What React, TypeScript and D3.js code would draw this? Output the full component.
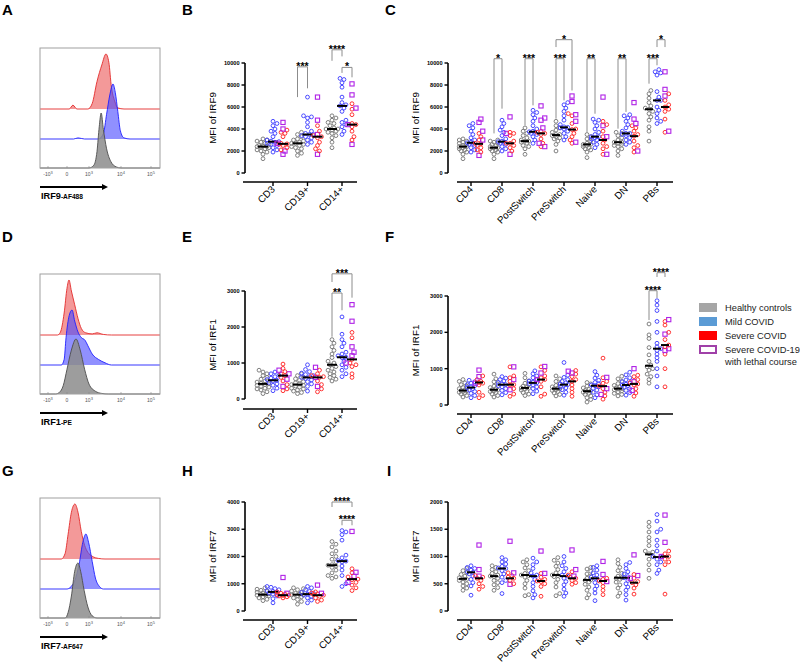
import React from "react";
import * as d3 from "d3";

const FONT = "'Liberation Sans', Arial, Helvetica, sans-serif";

// categories
const lineageCats = ["CD3", "CD19+", "CD14+"];
const subsetCats = ["CD4", "CD8", "PostSwitch", "PreSwitch", "Naive", "DN", "PBs"];

// ---------- IRF9, lineages (B) ----------
const irf9LinHC = [
  [1300, 1700, 1900, 2000, 2100, 2200, 2300, 2350, 2400, 2400, 2450, 2500, 2600, 2700, 2800, 2900, 3000, 3100],
  [1600, 1800, 2000, 2200, 2300, 2400, 2500, 2600, 2700, 2700, 2800, 2900, 3000, 3100, 3300, 3500, 3700],
  [2300, 2800, 3200, 3400, 3600, 3700, 3800, 3900, 4000, 4000, 4100, 4300, 4500, 4600, 4800, 5000, 5200],
];
const irf9LinMild = [
  [1900, 2100, 2300, 2500, 2600, 2700, 2800, 2850, 2900, 3000, 3300, 3600, 3800, 4000, 4300, 4500, 4700],
  [2600, 2800, 3000, 3200, 3300, 3400, 3500, 3500, 3600, 3800, 4200, 4600, 5000, 5100, 5200, 6900],
  [3500, 3800, 4200, 4400, 4600, 4800, 5600, 5900, 6100, 6200, 6400, 6900, 7800, 8200, 8500, 8600],
];
const irf9LinSev = [
  [2100, 2300, 2500, 2600, 2650, 2700, 3300, 3600, 3700, 3900],
  [2000, 2200, 2500, 2800, 3200, 3300, 3400, 3800, 4300],
  [3000, 3300, 3800, 4200, 4400, 4500, 5300, 5800, 6300],
];
const irf9LinLethal = [
  [4600, 4000, 2700, 2000, 1700],
  [6900, 4800, 3500, 1700],
  [8100, 7100, 5900, 4400, 2600],
];
const irf9LinMed = [[2400, 2850, 2650], [2700, 3500, 3300], [4000, 6100, 4400]];
const irf9LinSig = [
  { cat: 1, a: 0, b: 1, label: "***", bar: 9650, endA: 6900, endB: 7700 },
  { cat: 2, a: 0, b: 1, label: "****", bar: 11200, endA: 10200, endB: 10600 },
  { cat: 2, a: 1, b: 2, label: "*", bar: 9600, endA: 9100, endB: 8700 },
];

// ---------- IRF9, B/T subsets (C) ----------
const irf9SubHC = [
  [1300, 1700, 1900, 2000, 2100, 2200, 2300, 2400, 2400, 2500, 2600, 2700, 2800, 2900, 3000, 3100],
  [1300, 1700, 1900, 2000, 2100, 2200, 2300, 2300, 2400, 2500, 2600, 2700, 2800, 2900, 3000],
  [1700, 2200, 2400, 2500, 2700, 2800, 2900, 2900, 3000, 3200, 3400, 3600, 3800, 4100],
  [2000, 2600, 2900, 3100, 3200, 3300, 3400, 3500, 3500, 3700, 3900, 4100, 4300, 4700],
  [1400, 1900, 2100, 2200, 2300, 2400, 2500, 2600, 2600, 2700, 2900, 3100, 3300, 3500],
  [1600, 2000, 2200, 2400, 2500, 2600, 2700, 2800, 2800, 3000, 3200, 3400, 3600, 3700],
  [2900, 3800, 4200, 4800, 5100, 5400, 5600, 5800, 5900, 6100, 6400, 6800, 7200, 7500],
];
const irf9SubMild = [
  [1900, 2100, 2300, 2500, 2600, 2700, 2750, 2800, 3000, 3200, 3500, 3800, 4100, 4300, 4500],
  [2000, 2200, 2400, 2600, 2700, 2800, 2850, 2900, 3100, 3400, 3700, 3900, 4200, 4500, 4800],
  [2700, 3000, 3300, 3500, 3600, 3700, 3750, 3800, 4000, 4300, 4700, 5000, 5300, 5500, 5700],
  [3000, 3300, 3600, 3800, 4000, 4100, 4150, 4200, 4400, 4800, 5200, 5600, 5900, 6200, 6400],
  [2300, 2600, 2800, 3000, 3100, 3200, 3300, 3300, 3500, 3700, 4000, 4300, 4600, 4800, 4900],
  [2600, 2800, 3000, 3200, 3400, 3500, 3600, 3600, 3800, 4100, 4400, 4700, 5000, 5200, 5300],
  [4500, 4700, 5000, 5400, 5700, 6000, 6600, 6600, 6900, 7400, 8900, 9100, 9200, 9400],
];
const irf9SubSev = [
  [1900, 2100, 2300, 2500, 2650, 2700, 3000, 3300, 3600],
  [2000, 2300, 2500, 2700, 2700, 2900, 3400, 3600, 3700],
  [2400, 2700, 3100, 3500, 3600, 3700, 3800],
  [2700, 3000, 3300, 3600, 3950, 4000, 4500, 5200, 5400],
  [1700, 2200, 2400, 2700, 3000, 3300, 3800, 4400, 4700],
  [1900, 2300, 2500, 2900, 3350, 3500, 3800, 4100, 4300],
  [3700, 4900, 5600, 5800, 6000, 6200, 6600, 7200],
];
const irf9SubLethal = [
  [4900, 4600, 3800, 3000, 1600],
  [5100, 3600, 1700],
  [6100, 5000, 4800, 4100, 2700, 2400],
  [7000, 6500, 5300, 4700, 2800],
  [6900, 4300, 3300, 1700],
  [6400, 4900, 4500, 2000],
  [9200, 7600, 7000, 3800],
];
const irf9SubMed = [
  [2400, 2750, 2650], [2300, 2850, 2700], [2900, 3750, 3600], [3450, 4150, 3950],
  [2600, 3300, 3000], [2800, 3600, 3350], [5800, 6600, 6000],
];
const irf9SubSig = [
  { cat: 1, a: 0, b: 1, label: "*", bar: 10390, endA: 3600, endB: 5850 },
  { cat: 2, a: 0, b: 1, label: "***", bar: 10390, endA: 4330, endB: 6150 },
  { cat: 3, a: 0, b: 1, label: "***", bar: 10390, endA: 4940, endB: 6600 },
  { cat: 3, a: 0, b: 2, label: "*", bar: 12120, endA: 11450, endB: 7500 },
  { cat: 4, a: 0, b: 1, label: "**", bar: 10390, endA: 3730, endB: 5390 },
  { cat: 5, a: 0, b: 1, label: "**", bar: 10390, endA: 4030, endB: 5550 },
  { cat: 6, a: 0, b: 1, label: "***", bar: 10390, endA: 8120, endB: 9790 },
  { cat: 6, a: 1, b: 2, label: "*", bar: 12120, endA: 11450, endB: 11450 },
];

// ---------- IRF1, lineages (E) ----------
const irf1LinHC = [
  [150, 200, 250, 280, 300, 330, 350, 380, 400, 420, 440, 470, 500, 550, 600, 650, 700, 750, 800],
  [150, 180, 220, 250, 280, 300, 330, 360, 380, 400, 420, 450, 480, 520, 560, 600, 650, 700],
  [500, 550, 600, 650, 700, 750, 800, 850, 900, 950, 1000, 1050, 1150, 1250, 1350, 1450, 1550, 1650],
];
const irf1LinMild = [
  [230, 300, 380, 420, 460, 500, 520, 540, 580, 620, 660, 700, 750],
  [220, 350, 420, 480, 530, 570, 600, 620, 650, 680, 720, 760, 820, 950],
  [620, 700, 800, 880, 950, 1050, 1150, 1160, 1200, 1250, 1300, 1450, 1550, 1650, 1800, 2280],
];
const irf1LinSev = [
  [230, 280, 400, 500, 600, 650, 700, 760, 850, 970],
  [200, 280, 400, 500, 600, 620, 650, 700, 800],
  [600, 700, 900, 950, 1000, 1100, 1700, 1850],
];
const irf1LinLethal = [[800, 700, 550, 350], [880, 600, 350], [2620, 2160, 1450, 1300, 1200, 1000]];
const irf1LinMed = [[420, 520, 650], [400, 600, 600], [950, 1160, 1100]];
const irf1LinSig = [
  { cat: 2, a: 0, b: 1, label: "**", bar: 2944, endA: 1730, endB: 2465 },
  { cat: 2, a: 0, b: 2, label: "***", bar: 3477, endA: 3250, endB: 2815 },
];

// ---------- IRF1, subsets (F) ----------
const irf1SubHC = [
  [220, 260, 300, 330, 350, 370, 390, 400, 420, 450, 480, 520, 560, 610, 650, 700],
  [220, 260, 300, 340, 370, 390, 410, 420, 450, 480, 520, 580, 640, 720, 850],
  [260, 300, 340, 380, 410, 440, 460, 470, 490, 520, 560, 600, 660, 750, 870],
  [250, 290, 330, 370, 400, 420, 440, 450, 470, 500, 540, 590, 650, 720, 800],
  [80, 150, 200, 250, 290, 320, 350, 370, 380, 400, 430, 470, 520, 580, 620],
  [250, 290, 320, 360, 390, 420, 440, 450, 470, 500, 540, 590, 650, 720, 790],
  [600, 700, 780, 850, 960, 1000, 1050, 1100, 1200, 1380, 1580, 1830, 1930, 2230],
];
const irf1SubMild = [
  [200, 260, 320, 370, 410, 450, 480, 500, 530, 560, 600, 640, 680],
  [280, 340, 400, 450, 500, 530, 560, 580, 620, 660, 700, 740, 780],
  [310, 380, 450, 500, 550, 590, 610, 630, 660, 700, 750, 800, 860, 940],
  [270, 350, 420, 470, 510, 540, 560, 580, 610, 650, 700, 760, 820, 1170],
  [200, 280, 350, 410, 460, 500, 530, 550, 580, 620, 680, 740, 820, 920],
  [270, 340, 400, 450, 490, 530, 550, 570, 600, 640, 690, 750, 830, 900],
  [500, 800, 1000, 1200, 1300, 1400, 1500, 1550, 1600, 1700, 2000, 2300, 2600, 2750, 2870],
];
const irf1SubSev = [
  [200, 260, 350, 550, 600, 620, 650, 700, 800],
  [240, 300, 450, 550, 560, 650, 750, 800, 1050],
  [240, 300, 500, 650, 700, 750, 800, 950, 1050],
  [240, 350, 450, 550, 650, 700, 780, 850, 950],
  [160, 250, 350, 450, 520, 600, 650, 750, 1290],
  [240, 330, 450, 550, 580, 620, 700, 780, 820],
  [500, 1000, 1400, 1600, 1650, 1800, 2000, 2200, 2300],
];
const irf1SubLethal = [
  [960, 780, 600], [1050, 700, 420], [1060, 880, 700], [930, 880],
  [760, 450, 290], [1000, 640, 400], [2350, 1950, 1550, 1500],
];
const irf1SubMed = [
  [400, 480, 620], [420, 560, 560], [470, 610, 700], [450, 560, 650],
  [380, 530, 520], [450, 550, 580], [1080, 1550, 1650],
];
const irf1SubSig = [
  { cat: 6, a: 0, b: 1, label: "****", bar: 3146, endA: 2340, endB: 2945 },
  { cat: 6, a: 1, b: 2, label: "****", bar: 3642, endA: 3523, endB: 3523 },
];

// ---------- IRF7, lineages (H) ----------
const irf7LinHC = [
  [380, 430, 480, 520, 550, 580, 600, 610, 630, 660, 690, 720, 760, 800, 850],
  [250, 350, 420, 480, 520, 560, 590, 600, 620, 650, 690, 730, 780, 820, 850],
  [1200, 1250, 1300, 1400, 1500, 1600, 1650, 1680, 1700, 1800, 1900, 2000, 2100, 2200, 2350, 2450, 2550],
];
const irf7LinMild = [
  [300, 450, 550, 620, 660, 700, 720, 750, 780, 820, 870, 900],
  [300, 400, 480, 540, 580, 620, 650, 680, 720, 780, 850, 900],
  [900, 1000, 1300, 1500, 1650, 1800, 1830, 1850, 1950, 2050, 2600, 2800, 2900, 2950],
];
const irf7LinSev = [
  [480, 520, 550, 570, 580, 600, 620, 650, 700],
  [350, 400, 480, 540, 580, 600, 630, 660, 700],
  [750, 850, 950, 1050, 1150, 1170, 1250, 1400, 1550],
];
const irf7LinLethal = [[1230, 650], [950, 650], [2920, 1420, 1270, 1050]];
const irf7LinMed = [[600, 700, 580], [600, 620, 580], [1680, 1830, 1170]];
const irf7LinSig = [
  { cat: 2, a: 0, b: 2, label: "****", bar: 4000, endA: 3817, endB: 3817 },
  { cat: 2, a: 1, b: 2, label: "****", bar: 3330, endA: 3146, endB: 3146 },
];

// ---------- IRF7, subsets (I) ----------
const irf7SubHC = [
  [380, 420, 460, 500, 530, 560, 580, 590, 610, 640, 670, 700, 740, 780],
  [380, 430, 480, 520, 560, 600, 630, 640, 660, 690, 720, 760, 800, 830],
  [280, 300, 420, 500, 560, 620, 650, 660, 690, 740, 790, 850, 900, 940],
  [280, 320, 440, 520, 580, 630, 650, 660, 700, 760, 820, 880, 930, 980],
  [240, 300, 380, 440, 490, 530, 560, 570, 600, 640, 680, 730, 770, 800],
  [270, 330, 420, 480, 530, 580, 600, 610, 640, 690, 740, 800, 870, 940],
  [600, 750, 850, 950, 1000, 1050, 1080, 1100, 1200, 1280, 1350, 1450, 1550, 1630],
];
const irf7SubMild = [
  [290, 460, 520, 580, 640, 680, 710, 720, 750, 780, 800, 830],
  [320, 520, 560, 620, 680, 740, 780, 790, 820, 860, 900, 940, 980],
  [240, 300, 370, 450, 520, 580, 640, 660, 700, 780, 850, 900, 970],
  [270, 330, 400, 480, 540, 600, 640, 660, 720, 780, 830, 900, 1000],
  [190, 330, 400, 460, 520, 570, 600, 620, 660, 700, 750, 800, 830],
  [200, 300, 380, 440, 500, 560, 610, 630, 680, 720, 780, 850, 890],
  [690, 750, 850, 900, 950, 990, 1000, 1100, 1200, 1300, 1450, 1500, 1650, 1770],
];
const irf7SubSev = [
  [400, 450, 500, 560, 600, 620, 650],
  [500, 560, 600, 620, 650, 700],
  [270, 450, 500, 540, 550, 580, 620, 690],
  [490, 520, 560, 600, 620, 660, 720],
  [300, 380, 450, 520, 550, 580, 600],
  [310, 420, 480, 520, 540, 600, 670],
  [310, 850, 900, 950, 1000, 1050, 1100],
];
const irf7SubLethal = [
  [1210, 760, 640], [1280, 700, 490], [1100, 690], [1120, 760, 640],
  [910, 670, 540], [1030, 650, 600], [1760, 1260, 1000],
];
const irf7SubMed = [
  [590, 710, 600], [640, 780, 600], [660, 640, 550], [660, 640, 600],
  [570, 600, 550], [610, 610, 520], [1040, 990, 1000],
];
const irf7SubSig: any[] = [];

// ---------- flow histograms (x in display decades, height relative to modal peak) ----------
const histTicks = [
  { v: -1, base: "-10", sup: "3" },
  { v: 0, base: "0", sup: "" },
  { v: 1, base: "10", sup: "3" },
  { v: 2, base: "10", sup: "4" },
  { v: 3, base: "10", sup: "5" },
];
const irf9HistRed = [[-1.4, 0], [0.1, 0], [0.27, 0.07], [0.45, 0], [0.95, 0], [1.1, 0.1], [1.25, 0.5], [1.4, 0.8], [1.53, 1], [1.62, 0.85], [1.7, 0.4], [1.8, 0.15], [1.9, 0.02], [2.1, 0], [3.3, 0]];
const irf9HistBlue = [[-1.4, 0], [0.3, 0], [0.5, 0.02], [0.8, 0], [1.3, 0], [1.45, 0.1], [1.55, 0.45], [1.65, 0.8], [1.75, 1], [1.82, 0.85], [1.9, 0.5], [1.98, 0.15], [2.1, 0.02], [2.3, 0], [3.3, 0]];
const irf9HistGrey = [[-1.4, 0], [1.0, 0], [1.15, 0.05], [1.25, 0.3], [1.32, 0.75], [1.38, 1], [1.45, 0.7], [1.55, 0.35], [1.68, 0.12], [1.85, 0.02], [2.0, 0], [3.3, 0]];
const irf1HistRed = [[-1.4, 0], [-0.5, 0], [-0.35, 0.05], [-0.15, 0.4], [0, 0.85], [0.09, 1], [0.2, 0.8], [0.35, 0.55], [0.5, 0.3], [0.65, 0.12], [0.85, 0.04], [1.1, 0.02], [1.25, 0.04], [1.45, 0.01], [1.7, 0], [3.3, 0]];
const irf1HistBlue = [[-1.4, 0], [-0.3, 0], [-0.15, 0.1], [-0.05, 0.5], [0.1, 0.9], [0.23, 1], [0.35, 0.8], [0.5, 0.6], [0.65, 0.5], [0.82, 0.45], [0.95, 0.35], [1.1, 0.2], [1.3, 0.1], [1.5, 0.04], [1.7, 0], [3.3, 0]];
const irf1HistGrey = [[-1.4, 0], [-0.6, 0], [-0.4, 0.03], [-0.2, 0.15], [0, 0.45], [0.2, 0.8], [0.41, 1], [0.6, 0.8], [0.8, 0.45], [1.0, 0.18], [1.2, 0.05], [1.4, 0.01], [1.6, 0], [3.3, 0]];
const irf7HistRed = [[-1.4, 0], [-0.3, 0], [-0.1, 0.1], [0.05, 0.45], [0.2, 0.85], [0.36, 1], [0.5, 0.85], [0.65, 0.5], [0.8, 0.25], [0.95, 0.12], [1.1, 0.05], [1.3, 0.01], [1.5, 0], [3.3, 0]];
const irf7HistBlue = [[-1.4, 0], [0, 0], [0.15, 0.03], [0.35, 0.15], [0.55, 0.45], [0.72, 0.85], [0.86, 1], [0.98, 0.85], [1.1, 0.5], [1.2, 0.2], [1.32, 0.05], [1.45, 0], [3.3, 0]];
const irf7HistGrey = [[-1.4, 0], [-0.1, 0], [0.05, 0.1], [0.2, 0.4], [0.35, 0.85], [0.5, 1], [0.62, 0.85], [0.78, 0.5], [0.95, 0.2], [1.1, 0.04], [1.25, 0], [3.3, 0]];

const legendItems = ["Healthy controls", "Mild COVID", "Severe COVID", "Severe COVID-19", "with lethal course"];

const groupStroke = ["#808080", "#4a4aff", "#ff3333"];
const lethalStroke = "#b022e6";

type Sig = { cat: number; a: number; b: number; label: string; bar: number; endA: number; endB: number };

// simple beeswarm: nearest free horizontal slot, capped at maxOff
function swarm(vals: { v: number; sq: boolean }[], y: (v: number) => number, d: number, maxOff: number) {
  const pts = vals.map((p) => ({ ...p, py: y(p.v), dx: 0 })).sort((a, b) => b.py - a.py);
  const step = d * 0.55;
  const cands: number[] = [0];
  for (let k = 1; k * step <= maxOff; k++) cands.push(k * step, -k * step);
  const placed: typeof pts = [];
  for (const p of pts) {
    let best = 0, bestD = -1;
    for (const off of cands) {
      const md = placed.length ? Math.min(...placed.map((q) => Math.hypot(q.dx - off, q.py - p.py))) : Infinity;
      if (md >= d) { best = off; bestD = Infinity; break; }
      if (md > bestD) { bestD = md; best = off; }
    }
    p.dx = best;
    placed.push(p);
  }
  return placed;
}

function ScatterPanel(props: any) {
  const { cats, hc, mild, sev, lethal, med, sig, title, yMax, yStep, yZero, yTop, axisX, catRange, xAxis, xAxisY, off, medW, dot, spread } = props;
  const y = d3.scaleLinear().domain([0, yMax]).range([yZero, yTop]);
  const x = d3.scalePoint<string>().domain(cats).range(catRange);
  const ticks = d3.range(0, yMax + 1, yStep);
  const gx = (ci: number, g: number) => (x(cats[ci]) as number) + (g - 1) * off;
  const groups = [hc, mild, sev];
  return (
    <g>
      <line x1={axisX} x2={axisX} y1={y(0)} y2={y(yMax)} stroke="#000" strokeWidth={1.6} />
      {ticks.map((t: number) => (
        <g key={t}>
          <line x1={axisX - 3.5} x2={axisX} y1={y(t)} y2={y(t)} stroke="#000" strokeWidth={1.4} />
          <text x={axisX - 5.5} y={y(t)} dy="0.35em" textAnchor="end" fontSize={5.6} fontWeight="bold">{t}</text>
        </g>
      ))}
      <text transform={`translate(${axisX - 29},${(y(0) + y(yMax)) / 2}) rotate(-90)`} textAnchor="middle" fontSize={9.8}>{title}</text>
      <line x1={xAxis[0]} x2={xAxis[1]} y1={xAxisY} y2={xAxisY} stroke="#000" strokeWidth={1.6} />
      {cats.map((c: string) => (
        <g key={c}>
          <line x1={x(c)} x2={x(c)} y1={xAxisY} y2={xAxisY + 4} stroke="#000" strokeWidth={1.4} />
          <text transform={`translate(${(x(c) as number) + 2.5},${xAxisY + 8}) rotate(-45)`} textAnchor="end" fontSize={9.8}>{c}</text>
        </g>
      ))}
      {cats.map((c: string, ci: number) =>
        groups.map((grp: number[][], g: number) => {
          const vals = grp[ci].map((v) => ({ v, sq: false }));
          if (g === 2) lethal[ci].forEach((v: number) => vals.push({ v, sq: true }));
          const pts = swarm(vals, y, dot, spread);
          const cx = gx(ci, g);
          return (
            <g key={c + g}>
              {pts.map((p, i) =>
                p.sq ? (
                  <rect key={i} x={cx + p.dx - 2.1} y={p.py - 2.1} width={4.2} height={4.2} fill="none" stroke={lethalStroke} strokeWidth={1.1} />
                ) : (
                  <circle key={i} cx={cx + p.dx} cy={p.py} r={1.9} fill="none" stroke={groupStroke[g]} strokeWidth={1} />
                )
              )}
              <line x1={cx - medW / 2} x2={cx + medW / 2} y1={y(med[ci][g])} y2={y(med[ci][g])} stroke="#000" strokeWidth={2} />
            </g>
          );
        })
      )}
      {sig.map((s: Sig, i: number) => {
        const xa = gx(s.cat, s.a), xb = gx(s.cat, s.b);
        return (
          <g key={i}>
            <path d={`M${xa},${y(s.endA)}V${y(s.bar)}H${xb}V${y(s.endB)}`} fill="none" stroke="#8c8c8c" strokeWidth={1} />
            <text x={(xa + xb) / 2} y={y(s.bar) + 3} textAnchor="middle" fontSize={10.5} fontWeight="bold">{s.label}</text>
          </g>
        );
      })}
    </g>
  );
}

function Histogram({ top, red, blue, grey, name, fluor }: any) {
  const hx = d3.scaleLinear().domain([-1.4, -1, 0, 1, 2, 3, 3.3]).range([40, 48, 67, 89, 121, 151, 160]);
  const bottom = top + 120;
  const curves = [
    { data: red, base: top + 61, fill: "rgba(236,90,90,0.62)", stroke: "#e32b2b" },
    { data: blue, base: top + 91, fill: "rgba(70,70,255,0.6)", stroke: "#1f1fff" },
    { data: grey, base: bottom, fill: "rgba(140,140,140,0.85)", stroke: "#4d4d4d" },
  ];
  return (
    <g>
      {curves.map((c, i) => {
        const area = d3.area<number[]>().x((d) => hx(d[0])).y0(c.base).y1((d) => c.base - d[1] * 55).curve(d3.curveMonotoneX);
        const line = d3.line<number[]>().x((d) => hx(d[0])).y((d) => c.base - d[1] * 55).curve(d3.curveMonotoneX);
        return (
          <g key={i}>
            <path d={area(c.data) || ""} fill={c.fill} />
            <path d={line(c.data) || ""} fill="none" stroke={c.stroke} strokeWidth={0.9} />
          </g>
        );
      })}
      <rect x={40} y={top} width={120} height={120} fill="none" stroke="#a0a0a0" strokeWidth={1} />
      {histTicks.map((t) => (
        <g key={t.v}>
          <line x1={hx(t.v)} x2={hx(t.v)} y1={bottom} y2={bottom - 2} stroke="#888" strokeWidth={0.6} />
          <text x={hx(t.v)} y={bottom + 8} textAnchor="middle" fontSize={5} fill="#555">
            {t.base}
            {t.sup && <tspan dy={-2.5} fontSize={4}>{t.sup}</tspan>}
          </text>
        </g>
      ))}
      <line x1={40} x2={103} y1={bottom + 19} y2={bottom + 19} stroke="#000" strokeWidth={2} />
      <path d={`M102,${bottom + 16}L108,${bottom + 19}L102,${bottom + 22}Z`} fill="#000" />
      <text x={41} y={bottom + 31} fontWeight="bold" fontSize={9.2}>
        {name}
        <tspan fontSize={6.6}>{"-" + fluor}</tspan>
      </text>
    </g>
  );
}

export default function App() {
  const lin = { cats: lineageCats, axisX: 245, catRange: [273, 342], xAxis: [243, 357], off: 10, medW: 10, dot: 3.6, spread: 6 };
  const sub = { cats: subsetCats, axisX: 448, catRange: [471, 657], xAxis: [457, 673], off: 8, medW: 8, dot: 3.4, spread: 4.5 };
  const panels = [
    { ...lin, hc: irf9LinHC, mild: irf9LinMild, sev: irf9LinSev, lethal: irf9LinLethal, med: irf9LinMed, sig: irf9LinSig, title: "MFI of IRF9", yMax: 10000, yStep: 2000, yZero: 173, yTop: 63, xAxisY: 182 },
    { ...sub, hc: irf9SubHC, mild: irf9SubMild, sev: irf9SubSev, lethal: irf9SubLethal, med: irf9SubMed, sig: irf9SubSig, title: "MFI of IRF9", yMax: 10000, yStep: 2000, yZero: 173, yTop: 63, xAxisY: 182 },
    { ...lin, hc: irf1LinHC, mild: irf1LinMild, sev: irf1LinSev, lethal: irf1LinLethal, med: irf1LinMed, sig: irf1LinSig, title: "MFI of IRF1", yMax: 3000, yStep: 1000, yZero: 399, yTop: 291, xAxisY: 409 },
    { ...sub, hc: irf1SubHC, mild: irf1SubMild, sev: irf1SubSev, lethal: irf1SubLethal, med: irf1SubMed, sig: irf1SubSig, title: "MFI of IRF1", yMax: 3000, yStep: 1000, yZero: 405, yTop: 296, xAxisY: 414 },
    { ...lin, hc: irf7LinHC, mild: irf7LinMild, sev: irf7LinSev, lethal: irf7LinLethal, med: irf7LinMed, sig: irf7LinSig, title: "MFI of IRF7", yMax: 4000, yStep: 1000, yZero: 611, yTop: 502, xAxisY: 620 },
    { ...sub, hc: irf7SubHC, mild: irf7SubMild, sev: irf7SubSev, lethal: irf7SubLethal, med: irf7SubMed, sig: irf7SubSig, title: "MFI of IRF7", yMax: 2000, yStep: 500, yZero: 611, yTop: 502, xAxisY: 620 },
  ];
  const letters = [
    ["A", 2, 15], ["B", 182, 15], ["C", 385, 15],
    ["D", 2, 242], ["E", 182, 242], ["F", 385, 242],
    ["G", 2, 476], ["H", 182, 476], ["I", 387, 476],
  ];
  const legendFill = ["#a6a6a6", "#5b9bd5", "#ff0000", "#ffffff"];
  const legendY = [303, 317, 331, 345];
  return (
    <svg width={800} height={664} style={{ position: "absolute", left: 0, top: 0, background: "#fff" }} fontFamily={FONT}>
      <rect width={800} height={664} fill="#fff" />
      {letters.map(([t, lx, ly]) => (
        <text key={t as string} x={lx as number} y={ly as number} fontSize={15} fontWeight="bold">{t}</text>
      ))}
      <Histogram top={48} red={irf9HistRed} blue={irf9HistBlue} grey={irf9HistGrey} name="IRF9" fluor="AF488" />
      <Histogram top={274} red={irf1HistRed} blue={irf1HistBlue} grey={irf1HistGrey} name="IRF1" fluor="PE" />
      <Histogram top={498} red={irf7HistRed} blue={irf7HistBlue} grey={irf7HistGrey} name="IRF7" fluor="AF647" />
      {panels.map((p, i) => (
        <ScatterPanel key={i} {...p} />
      ))}
      <g>
        {legendY.map((ly, i) => (
          <rect key={i} x={i === 3 ? 700 : 699} y={i === 3 ? ly + 1 : ly} width={i === 3 ? 16 : 18} height={i === 3 ? 7 : 9}
            fill={legendFill[i]} stroke={i === 3 ? "#a040a8" : "none"} strokeWidth={i === 3 ? 2 : 0} />
        ))}
        {legendItems.map((t, i) => (
          <text key={t} x={725} y={i < 4 ? legendY[i] + 8 : legendY[3] + 20} fontSize={9.3} fill="#222">{t}</text>
        ))}
      </g>
    </svg>
  );
}
